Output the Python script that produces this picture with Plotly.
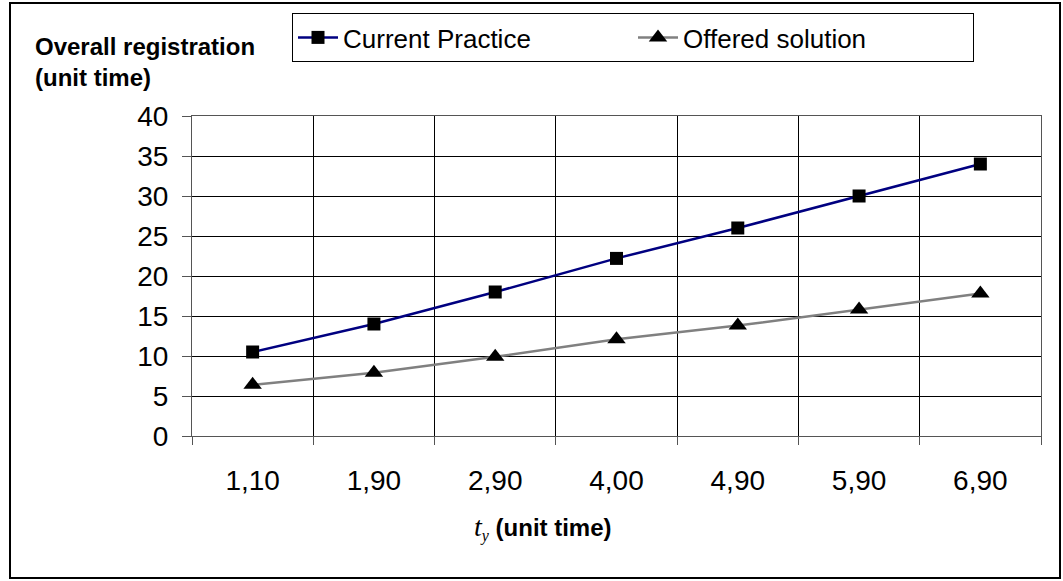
import plotly.graph_objects as go

# Category labels (t_y values) and the two series
t_y_labels = ["1,10", "1,90", "2,90", "4,00", "4,90", "5,90", "6,90"]
current_practice = [10.5, 14.0, 18.0, 22.2, 26.0, 30.0, 34.0]
offered_solution = [6.4, 7.9, 9.9, 12.1, 13.8, 15.8, 17.8]
y_ticks = [0, 5, 10, 15, 20, 25, 30, 35, 40]

FONT = "Liberation Sans, Arial, sans-serif"
SERIF = "Liberation Serif, Times New Roman, serif"

fig = go.Figure()
fig.add_trace(go.Scatter(
    x=t_y_labels, y=current_practice, name="Current Practice",
    mode="lines+markers",
    line=dict(color="#000080", width=2.5),
    marker=dict(symbol="square", size=13, color="black"),
))
fig.add_trace(go.Scatter(
    x=t_y_labels, y=offered_solution, name="Offered solution",
    mode="lines+markers",
    line=dict(color="#808080", width=2.5),
    marker=dict(symbol="triangle-up", size=16, color="black"),
))

L, R, T, B = 192, 22, 116, 145
W, H = 1063, 581
pw, ph = W - L - R, H - T - B

def px_x(x):
    return (x - L) / pw

def px_y(y):
    return (H - B - y) / ph

fig.update_layout(
    width=W, height=H,
    margin=dict(l=L, r=R, t=T, b=B),
    paper_bgcolor="white", plot_bgcolor="white",
    font=dict(family=FONT, size=27, color="black"),
    showlegend=True,
    legend=dict(
        orientation="h",
        x=px_x(292), y=px_y(13), xanchor="left", yanchor="top",
        bordercolor="black", borderwidth=1,
        font=dict(family=FONT, size=26, color="black"),
        bgcolor="white",
        itemwidth=40,
        entrywidth=285, entrywidthmode="pixels",
        tracegroupgap=0,
    ),
    xaxis=dict(
        type="category",
        range=[-0.5, 6.5],
        tickson="boundaries",
        showgrid=True, gridcolor="black", gridwidth=1,
        ticks="outside", ticklen=8, tickcolor="#555555",
        showline=True, linecolor="#555555", linewidth=1, mirror=True,
        tickfont=dict(family=FONT, size=28),
        ticklabelstandoff=19,
        zeroline=False,
    ),
    yaxis=dict(
        range=[0, 40],
        tickvals=y_ticks,
        showgrid=True, gridcolor="black", gridwidth=1,
        ticks="outside", ticklen=9, tickcolor="#555555",
        showline=True, linecolor="#555555", linewidth=1, mirror=True,
        tickfont=dict(family=FONT, size=28),
        ticklabelstandoff=8,
        zeroline=False,
    ),
)

# Outer chart frame
fig.add_shape(
    type="rect", xref="paper", yref="paper",
    x0=px_x(10), x1=px_x(1060), y0=px_y(578), y1=px_y(3),
    line=dict(color="black", width=2), fillcolor="rgba(0,0,0,0)",
    layer="below",
)

# Y-axis title (horizontal, top-left)
fig.add_annotation(
    xref="paper", yref="paper",
    x=px_x(33), y=px_y(31), xanchor="left", yanchor="top",
    text="<b>Overall registration<br>(unit time)</b>",
    showarrow=False, align="left",
    font=dict(family=FONT, size=24, color="black"),
)

# X-axis title
fig.add_annotation(
    xref="paper", yref="paper",
    x=px_x(543), y=px_y(528), xanchor="center", yanchor="middle",
    text=(f"<span style='font-family:{SERIF};font-style:italic;font-size:28px'>t</span>"
          f"<sub><span style='font-family:{SERIF};font-style:italic;font-size:16px'>y</span></sub>"
          " <b>(unit time)</b>"),
    showarrow=False,
    font=dict(family=FONT, size=24, color="black"),
)

fig.write_html("out.html")
